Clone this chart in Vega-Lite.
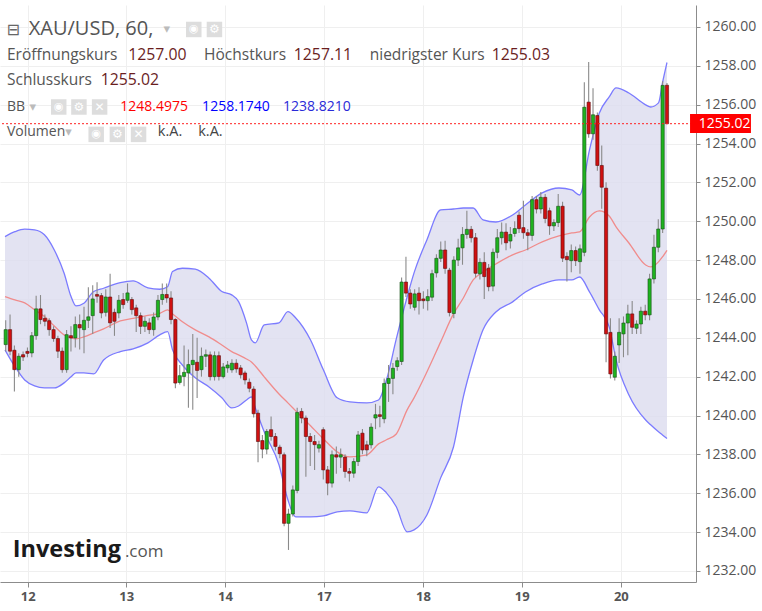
{
  "$schema": "https://vega.github.io/schema/vega-lite/v6.json",
  "width": 696,
  "height": 577,
  "autosize": {"type": "none"},
  "padding": {"left": 0, "top": 5, "right": 66, "bottom": 29},
  "background": "white",
  "config": {"view": {"stroke": null}},
  "data": {"values": [{}]},
  "datasets": {
    "candles": [
      {"i":0,"o":1243.65,"h":1244.9,"l":1243.3,"c":1244.42},
      {"i":1,"o":1244.42,"h":1245.2,"l":1243.1,"c":1243.31},
      {"i":2,"o":1243.36,"h":1243.6,"l":1241.24,"c":1242.36},
      {"i":3,"o":1242.36,"h":1243.2,"l":1242.0,"c":1243.05},
      {"i":4,"o":1243.13,"h":1243.3,"l":1242.8,"c":1243.01},
      {"i":5,"o":1243.3,"h":1243.5,"l":1243.0,"c":1243.2},
      {"i":6,"o":1243.22,"h":1244.3,"l":1243.0,"c":1244.11},
      {"i":7,"o":1244.11,"h":1246.17,"l":1243.9,"c":1245.49},
      {"i":8,"o":1245.49,"h":1246.2,"l":1244.7,"c":1244.94},
      {"i":9,"o":1245.0,"h":1245.2,"l":1244.6,"c":1244.85},
      {"i":10,"o":1244.88,"h":1245.0,"l":1244.1,"c":1244.42},
      {"i":11,"o":1244.42,"h":1244.6,"l":1243.8,"c":1243.96},
      {"i":12,"o":1243.96,"h":1244.1,"l":1242.96,"c":1243.31},
      {"i":13,"o":1243.31,"h":1243.5,"l":1242.2,"c":1242.36},
      {"i":14,"o":1242.36,"h":1244.4,"l":1242.2,"c":1244.16},
      {"i":15,"o":1244.11,"h":1244.6,"l":1243.3,"c":1243.99},
      {"i":16,"o":1243.99,"h":1245.1,"l":1243.5,"c":1244.68},
      {"i":17,"o":1244.68,"h":1245.2,"l":1243.4,"c":1244.51},
      {"i":18,"o":1244.42,"h":1245.6,"l":1243.2,"c":1244.9},
      {"i":19,"o":1244.9,"h":1246.6,"l":1244.5,"c":1245.08},
      {"i":20,"o":1245.14,"h":1246.7,"l":1244.2,"c":1246.0},
      {"i":21,"o":1246.23,"h":1246.86,"l":1245.8,"c":1246.14},
      {"i":22,"o":1246.17,"h":1246.3,"l":1245.0,"c":1245.28},
      {"i":23,"o":1245.31,"h":1246.5,"l":1245.1,"c":1246.1},
      {"i":24,"o":1246.1,"h":1247.3,"l":1244.5,"c":1244.77},
      {"i":25,"o":1245.31,"h":1245.5,"l":1244.1,"c":1244.85},
      {"i":26,"o":1245.28,"h":1246.2,"l":1245.0,"c":1245.93},
      {"i":27,"o":1245.97,"h":1246.3,"l":1245.5,"c":1245.71},
      {"i":28,"o":1245.93,"h":1246.8,"l":1245.8,"c":1246.31},
      {"i":29,"o":1245.97,"h":1246.1,"l":1245.2,"c":1245.45},
      {"i":30,"o":1245.54,"h":1245.7,"l":1244.3,"c":1245.14},
      {"i":31,"o":1245.14,"h":1245.3,"l":1244.2,"c":1244.59},
      {"i":32,"o":1244.59,"h":1245.1,"l":1244.3,"c":1244.85},
      {"i":33,"o":1244.77,"h":1245.0,"l":1244.2,"c":1244.42},
      {"i":34,"o":1244.42,"h":1245.3,"l":1244.1,"c":1245.07},
      {"i":35,"o":1245.07,"h":1246.2,"l":1244.9,"c":1245.93},
      {"i":36,"o":1245.97,"h":1246.8,"l":1245.7,"c":1246.23},
      {"i":37,"o":1246.23,"h":1246.8,"l":1245.8,"c":1246.05},
      {"i":38,"o":1246.05,"h":1246.4,"l":1244.7,"c":1244.94},
      {"i":39,"o":1244.94,"h":1245.0,"l":1241.4,"c":1241.67},
      {"i":40,"o":1241.7,"h":1242.6,"l":1241.6,"c":1242.05},
      {"i":41,"o":1242.01,"h":1243.6,"l":1241.5,"c":1242.22},
      {"i":42,"o":1242.19,"h":1243.4,"l":1240.4,"c":1242.62},
      {"i":43,"o":1242.62,"h":1244.2,"l":1240.3,"c":1242.84},
      {"i":44,"o":1242.74,"h":1244.0,"l":1240.9,"c":1242.32},
      {"i":45,"o":1242.36,"h":1243.5,"l":1242.0,"c":1243.05},
      {"i":46,"o":1243.05,"h":1243.4,"l":1242.5,"c":1243.13},
      {"i":47,"o":1243.12,"h":1243.3,"l":1241.8,"c":1242.0},
      {"i":48,"o":1242.0,"h":1243.3,"l":1241.8,"c":1243.08},
      {"i":49,"o":1243.08,"h":1243.3,"l":1241.8,"c":1242.01},
      {"i":50,"o":1242.0,"h":1242.7,"l":1241.9,"c":1242.5},
      {"i":51,"o":1242.45,"h":1242.8,"l":1242.2,"c":1242.6},
      {"i":52,"o":1242.35,"h":1242.9,"l":1242.2,"c":1242.69},
      {"i":53,"o":1242.69,"h":1242.9,"l":1242.2,"c":1242.4},
      {"i":54,"o":1242.45,"h":1242.6,"l":1241.9,"c":1242.1},
      {"i":55,"o":1242.19,"h":1242.3,"l":1241.6,"c":1241.83},
      {"i":56,"o":1241.71,"h":1241.9,"l":1241.2,"c":1241.4},
      {"i":57,"o":1241.36,"h":1241.5,"l":1239.9,"c":1240.09},
      {"i":58,"o":1240.12,"h":1240.3,"l":1237.6,"c":1238.66},
      {"i":59,"o":1238.71,"h":1239.0,"l":1237.8,"c":1238.27},
      {"i":60,"o":1238.27,"h":1239.3,"l":1238.0,"c":1239.18},
      {"i":61,"o":1239.27,"h":1239.95,"l":1238.7,"c":1238.92},
      {"i":62,"o":1238.92,"h":1239.1,"l":1238.2,"c":1238.41},
      {"i":63,"o":1238.37,"h":1238.5,"l":1237.8,"c":1238.03},
      {"i":64,"o":1237.98,"h":1238.1,"l":1234.3,"c":1234.45},
      {"i":65,"o":1234.45,"h":1235.2,"l":1233.08,"c":1234.93},
      {"i":66,"o":1234.93,"h":1236.4,"l":1234.8,"c":1236.17},
      {"i":67,"o":1236.14,"h":1240.4,"l":1236.0,"c":1240.16},
      {"i":68,"o":1240.21,"h":1240.38,"l":1239.6,"c":1239.87},
      {"i":69,"o":1239.87,"h":1240.0,"l":1236.85,"c":1238.92},
      {"i":70,"o":1238.92,"h":1239.1,"l":1237.4,"c":1238.66},
      {"i":71,"o":1238.66,"h":1239.0,"l":1237.2,"c":1238.5},
      {"i":72,"o":1238.32,"h":1238.7,"l":1238.1,"c":1238.5},
      {"i":73,"o":1239.27,"h":1239.4,"l":1236.7,"c":1237.2},
      {"i":74,"o":1237.2,"h":1237.4,"l":1235.9,"c":1236.52},
      {"i":75,"o":1236.52,"h":1238.2,"l":1236.3,"c":1237.98},
      {"i":76,"o":1237.98,"h":1238.4,"l":1237.0,"c":1237.86},
      {"i":77,"o":1237.86,"h":1238.3,"l":1237.3,"c":1237.98},
      {"i":78,"o":1237.86,"h":1238.0,"l":1236.8,"c":1237.12},
      {"i":79,"o":1237.12,"h":1237.3,"l":1236.6,"c":1237.03},
      {"i":80,"o":1237.03,"h":1237.8,"l":1236.8,"c":1237.63},
      {"i":81,"o":1237.63,"h":1239.2,"l":1237.4,"c":1239.0},
      {"i":82,"o":1239.09,"h":1239.3,"l":1238.0,"c":1238.23},
      {"i":83,"o":1238.49,"h":1238.7,"l":1237.9,"c":1238.23},
      {"i":84,"o":1238.49,"h":1239.6,"l":1238.3,"c":1239.4},
      {"i":85,"o":1239.87,"h":1240.6,"l":1239.3,"c":1240.04},
      {"i":86,"o":1240.04,"h":1240.5,"l":1239.4,"c":1239.95},
      {"i":87,"o":1239.83,"h":1241.9,"l":1239.6,"c":1241.65},
      {"i":88,"o":1241.65,"h":1242.6,"l":1240.7,"c":1241.91},
      {"i":89,"o":1241.91,"h":1242.7,"l":1241.1,"c":1242.43},
      {"i":90,"o":1242.52,"h":1243.0,"l":1242.3,"c":1242.82},
      {"i":91,"o":1242.78,"h":1247.1,"l":1242.6,"c":1246.87},
      {"i":92,"o":1246.87,"h":1248.17,"l":1246.1,"c":1246.3},
      {"i":93,"o":1246.3,"h":1246.5,"l":1245.5,"c":1245.74},
      {"i":94,"o":1245.57,"h":1246.5,"l":1245.4,"c":1246.26},
      {"i":95,"o":1246.3,"h":1246.6,"l":1245.2,"c":1245.91},
      {"i":96,"o":1246.0,"h":1246.4,"l":1245.5,"c":1245.91},
      {"i":97,"o":1245.91,"h":1246.5,"l":1245.4,"c":1246.12},
      {"i":98,"o":1246.09,"h":1247.5,"l":1245.9,"c":1247.3},
      {"i":99,"o":1247.34,"h":1248.3,"l":1247.1,"c":1248.09},
      {"i":100,"o":1248.09,"h":1248.96,"l":1247.9,"c":1248.52},
      {"i":101,"o":1248.52,"h":1249.0,"l":1247.3,"c":1247.57},
      {"i":102,"o":1247.48,"h":1247.6,"l":1245.1,"c":1245.3},
      {"i":103,"o":1245.25,"h":1248.2,"l":1245.0,"c":1248.0},
      {"i":104,"o":1248.0,"h":1249.1,"l":1247.7,"c":1248.63},
      {"i":105,"o":1248.63,"h":1249.7,"l":1247.76,"c":1249.32},
      {"i":106,"o":1249.32,"h":1250.54,"l":1249.1,"c":1249.58},
      {"i":107,"o":1249.58,"h":1249.76,"l":1248.9,"c":1249.15},
      {"i":108,"o":1249.15,"h":1249.4,"l":1247.1,"c":1247.32},
      {"i":109,"o":1247.29,"h":1248.1,"l":1247.0,"c":1247.88},
      {"i":110,"o":1247.88,"h":1248.4,"l":1246.0,"c":1247.15},
      {"i":111,"o":1247.58,"h":1247.8,"l":1246.4,"c":1246.63},
      {"i":112,"o":1246.66,"h":1248.6,"l":1246.4,"c":1248.4},
      {"i":113,"o":1248.4,"h":1249.6,"l":1248.1,"c":1249.15},
      {"i":114,"o":1249.15,"h":1249.93,"l":1248.8,"c":1249.44},
      {"i":115,"o":1249.44,"h":1249.9,"l":1248.5,"c":1248.89},
      {"i":116,"o":1248.98,"h":1249.7,"l":1248.6,"c":1249.32},
      {"i":117,"o":1249.37,"h":1250.0,"l":1249.2,"c":1249.62},
      {"i":118,"o":1250.31,"h":1250.5,"l":1249.4,"c":1249.62},
      {"i":119,"o":1249.67,"h":1251.06,"l":1249.1,"c":1249.41},
      {"i":120,"o":1249.41,"h":1249.6,"l":1248.5,"c":1249.27},
      {"i":121,"o":1249.27,"h":1251.3,"l":1249.0,"c":1251.11},
      {"i":122,"o":1251.11,"h":1251.3,"l":1250.4,"c":1250.63},
      {"i":123,"o":1250.63,"h":1251.5,"l":1250.4,"c":1251.23},
      {"i":124,"o":1251.23,"h":1251.4,"l":1249.9,"c":1250.14},
      {"i":125,"o":1250.54,"h":1250.7,"l":1249.3,"c":1249.76},
      {"i":126,"o":1249.76,"h":1250.1,"l":1249.5,"c":1249.93},
      {"i":127,"o":1249.93,"h":1251.4,"l":1249.7,"c":1250.77},
      {"i":128,"o":1250.77,"h":1251.0,"l":1247.9,"c":1248.1},
      {"i":129,"o":1248.19,"h":1248.4,"l":1246.9,"c":1248.02},
      {"i":130,"o":1247.97,"h":1248.8,"l":1247.37,"c":1248.49},
      {"i":131,"o":1248.49,"h":1248.7,"l":1247.7,"c":1247.97},
      {"i":132,"o":1247.92,"h":1248.8,"l":1247.3,"c":1248.58},
      {"i":133,"o":1248.4,"h":1257.16,"l":1248.2,"c":1255.87},
      {"i":134,"o":1256.13,"h":1258.19,"l":1254.3,"c":1254.5},
      {"i":135,"o":1254.5,"h":1256.85,"l":1254.2,"c":1255.48},
      {"i":136,"o":1255.44,"h":1255.6,"l":1252.6,"c":1252.87},
      {"i":137,"o":1252.87,"h":1253.9,"l":1250.64,"c":1251.75},
      {"i":138,"o":1251.7,"h":1252.0,"l":1242.74,"c":1244.2},
      {"i":139,"o":1244.28,"h":1245.0,"l":1241.9,"c":1242.14},
      {"i":140,"o":1241.97,"h":1243.3,"l":1241.8,"c":1243.05},
      {"i":141,"o":1243.63,"h":1245.0,"l":1242.7,"c":1244.28},
      {"i":142,"o":1244.2,"h":1245.1,"l":1243.0,"c":1244.76},
      {"i":143,"o":1244.76,"h":1245.7,"l":1243.1,"c":1245.23},
      {"i":144,"o":1245.23,"h":1245.9,"l":1244.2,"c":1244.54},
      {"i":145,"o":1244.49,"h":1244.9,"l":1244.2,"c":1244.71},
      {"i":146,"o":1244.71,"h":1245.6,"l":1244.2,"c":1245.37},
      {"i":147,"o":1245.37,"h":1245.7,"l":1244.9,"c":1245.18},
      {"i":148,"o":1245.18,"h":1247.3,"l":1244.9,"c":1247.03},
      {"i":149,"o":1247.03,"h":1249.3,"l":1246.8,"c":1248.66},
      {"i":150,"o":1248.66,"h":1250.1,"l":1248.4,"c":1249.6},
      {"i":151,"o":1249.6,"h":1257.2,"l":1249.4,"c":1256.99},
      {"i":152,"o":1257.0,"h":1257.11,"l":1255.02,"c":1255.02}
    ],
    "bb": [
      {"i":-0.16,"u":1249.21,"m":1246.12,"l":1243.38},
      {"i":2.11,"u":1249.46,"m":1245.95,"l":1242.52},
      {"i":4.37,"u":1249.59,"m":1245.8,"l":1241.83},
      {"i":6.64,"u":1249.55,"m":1245.44,"l":1241.52},
      {"i":8.9,"u":1249.3,"m":1245.09,"l":1241.42},
      {"i":11.17,"u":1248.52,"m":1244.61,"l":1241.42},
      {"i":13.43,"u":1247.32,"m":1244.15,"l":1241.68},
      {"i":15.02,"u":1246.12,"m":1243.99,"l":1241.99},
      {"i":16.15,"u":1245.64,"m":1243.94,"l":1242.19},
      {"i":17.97,"u":1245.78,"m":1244.05,"l":1242.19},
      {"i":20.23,"u":1246.38,"m":1244.25,"l":1242.14},
      {"i":22.5,"u":1246.55,"m":1244.46,"l":1242.86},
      {"i":26.35,"u":1246.84,"m":1244.87,"l":1243.29},
      {"i":29.29,"u":1246.93,"m":1245.0,"l":1243.43},
      {"i":32.69,"u":1246.57,"m":1245.15,"l":1243.74},
      {"i":35.41,"u":1246.5,"m":1245.26,"l":1244.15},
      {"i":37.22,"u":1246.63,"m":1245.44,"l":1244.32},
      {"i":38.35,"u":1247.41,"m":1245.23,"l":1243.38},
      {"i":40.62,"u":1247.58,"m":1244.83,"l":1242.6},
      {"i":43.57,"u":1247.53,"m":1244.41,"l":1241.94},
      {"i":46.74,"u":1247.07,"m":1244.05,"l":1241.47},
      {"i":49.68,"u":1246.38,"m":1243.63,"l":1240.91},
      {"i":51.95,"u":1246.21,"m":1243.29,"l":1240.39},
      {"i":53.53,"u":1245.86,"m":1243.12,"l":1240.49},
      {"i":55.35,"u":1244.77,"m":1242.91,"l":1240.8},
      {"i":56.48,"u":1243.89,"m":1242.76,"l":1240.96},
      {"i":57.38,"u":1243.74,"m":1242.55,"l":1240.39},
      {"i":59.42,"u":1244.66,"m":1241.99,"l":1239.16},
      {"i":62.82,"u":1244.77,"m":1241.11,"l":1237.46},
      {"i":64.86,"u":1245.35,"m":1240.65,"l":1235.66},
      {"i":66.67,"u":1245.02,"m":1240.24,"l":1234.78},
      {"i":70.07,"u":1243.89,"m":1239.47,"l":1234.78},
      {"i":73.02,"u":1242.35,"m":1238.8,"l":1234.83},
      {"i":76.19,"u":1240.91,"m":1238.13,"l":1235.04},
      {"i":79.13,"u":1240.7,"m":1237.87,"l":1235.09},
      {"i":82.98,"u":1240.65,"m":1237.97,"l":1234.99},
      {"i":85.7,"u":1240.8,"m":1238.54,"l":1236.33},
      {"i":87.52,"u":1241.83,"m":1238.75,"l":1236.02},
      {"i":89.78,"u":1243.94,"m":1239.05,"l":1235.3},
      {"i":92.27,"u":1246.1,"m":1240.29,"l":1234.01},
      {"i":93.86,"u":1247.34,"m":1240.91,"l":1234.11},
      {"i":96.81,"u":1249.04,"m":1242.24,"l":1234.88},
      {"i":99.98,"u":1250.58,"m":1243.79,"l":1236.79},
      {"i":102.92,"u":1250.63,"m":1245.23,"l":1238.38},
      {"i":105.19,"u":1250.68,"m":1246.05,"l":1240.96},
      {"i":107.45,"u":1250.68,"m":1246.98,"l":1242.86},
      {"i":109.72,"u":1250.07,"m":1247.39,"l":1244.41},
      {"i":112.67,"u":1249.96,"m":1247.8,"l":1245.33},
      {"i":116.52,"u":1250.32,"m":1248.27,"l":1245.85},
      {"i":119.47,"u":1250.84,"m":1248.52,"l":1246.36},
      {"i":123.32,"u":1251.46,"m":1248.94,"l":1246.77},
      {"i":127.17,"u":1251.71,"m":1249.24,"l":1246.98},
      {"i":130.12,"u":1251.61,"m":1249.4,"l":1246.98},
      {"i":131.92,"u":1251.35,"m":1249.45,"l":1247.13},
      {"i":134.19,"u":1253.67,"m":1250.22,"l":1246.36},
      {"i":136.45,"u":1255.57,"m":1250.53,"l":1245.44},
      {"i":138.72,"u":1256.4,"m":1250.27,"l":1244.56},
      {"i":140.3,"u":1256.86,"m":1249.71,"l":1242.86},
      {"i":143.25,"u":1256.6,"m":1248.88,"l":1241.06},
      {"i":147.1,"u":1255.99,"m":1247.75,"l":1239.77},
      {"i":148.24,"u":1255.88,"m":1247.65,"l":1239.52},
      {"i":150.05,"u":1256.09,"m":1247.91,"l":1239.16},
      {"i":150.96,"u":1257.12,"m":1248.16,"l":1239.0},
      {"i":152,"u":1258.17,"m":1248.5,"l":1238.82}
    ]
  },
  "encoding": {
    "x": {
      "type": "quantitative",
      "scale": {"domain": [-0.16, 157.52], "nice": false, "zero": false},
      "axis": {
        "orient": "bottom", "title": null,
        "values": [5.05, 27.7, 50.4, 73.1, 95.9, 118.6, 141.4],
        "labelExpr": "datum.value < 10 ? '12' : datum.value < 30 ? '13' : datum.value < 60 ? '14' : datum.value < 80 ? '17' : datum.value < 100 ? '18' : datum.value < 130 ? '19' : '20'",
        "grid": true, "gridColor": "#efefef",
        "domainColor": "#8c8c8c", "tickColor": "#8c8c8c", "tickSize": 5,
        "labelFont": "Open Sans", "labelFontSize": 13, "labelFontWeight": "bold",
        "labelColor": "#555555", "labelPadding": 3
      }
    },
    "y": {
      "type": "quantitative",
      "scale": {"domain": [1231.43, 1261.13], "nice": false, "zero": false},
      "axis": {
        "orient": "right", "title": null,
        "values": [1232, 1234, 1236, 1238, 1240, 1242, 1244, 1246, 1248, 1250, 1252, 1254, 1256, 1258, 1260],
        "format": ".2f",
        "grid": true, "gridColor": "#efefef",
        "domainColor": "#8c8c8c", "tickColor": "#8c8c8c", "tickSize": 4,
        "labelFont": "Open Sans", "labelFontSize": 14, "labelColor": "#555555", "labelPadding": 4
      }
    }
  },
  "layer": [
    {
      "data": {"name": "bb"},
      "mark": {"type": "area", "color": "#dcdcef", "opacity": 0.8, "interpolate": "monotone"},
      "encoding": {"x": {"field": "i"}, "y": {"field": "u"}, "y2": {"field": "l"}}
    },
    {
      "data": {"name": "bb"},
      "mark": {"type": "line", "color": "#7b7bff", "strokeWidth": 1.3, "interpolate": "monotone"},
      "encoding": {"x": {"field": "i"}, "y": {"field": "u"}}
    },
    {
      "data": {"name": "bb"},
      "mark": {"type": "line", "color": "#7b7bff", "strokeWidth": 1.3, "interpolate": "monotone"},
      "encoding": {"x": {"field": "i"}, "y": {"field": "l"}}
    },
    {
      "data": {"name": "bb"},
      "mark": {"type": "line", "color": "#f08c8c", "strokeWidth": 1.3, "interpolate": "monotone"},
      "encoding": {"x": {"field": "i"}, "y": {"field": "m"}}
    },
    {
      "data": {"name": "candles"},
      "mark": {"type": "rule", "color": "#8a8a8a", "strokeWidth": 1.1},
      "encoding": {"x": {"field": "i"}, "y": {"field": "l"}, "y2": {"field": "h"}}
    },
    {
      "data": {"name": "candles"},
      "mark": {"type": "bar", "size": 3.2, "strokeWidth": 0.6},
      "encoding": {
        "x": {"field": "i"},
        "y": {"field": "o"},
        "y2": {"field": "c"},
        "color": {"condition": {"test": "datum.c >= datum.o", "value": "#1fb31f"}, "value": "#d01010"},
        "stroke": {"condition": {"test": "datum.c >= datum.o", "value": "#154d15"}, "value": "#5a0c0c"}
      }
    },
    {
      "mark": {"type": "rule", "color": "#ff2020", "strokeDash": [2, 2], "strokeWidth": 1},
      "encoding": {"y": {"datum": 1255.02}}
    },
    {
      "mark": {"type": "rect", "color": "#ff0000"},
      "encoding": {"x": {"datum": 157.3}, "x2": {"datum": 171.3}, "y": {"datum": 1255.52}, "y2": {"datum": 1254.54}}
    },
    {
      "mark": {"type": "text", "align": "left", "baseline": "middle", "font": "Open Sans", "fontSize": 14, "color": "white"},
      "encoding": {"x": {"datum": 159.3}, "y": {"datum": 1255.02}, "text": {"value": "1255.02"}}
    },
    {
      "mark": {"type": "text", "align": "left", "baseline": "middle", "font": "DejaVu Sans", "fontSize": 16, "color": "#666666"},
      "encoding": {"x": {"datum": 0.2}, "y": {"datum": 1259.85}, "text": {"value": "⊟"}}
    },
    {
      "mark": {"type": "text", "align": "left", "baseline": "middle", "font": "Open Sans", "fontSize": 20, "color": "#555555"},
      "encoding": {"x": {"datum": 5.3}, "y": {"datum": 1259.9}, "text": {"value": "XAU/USD, 60,"}}
    },
    {
      "mark": {"type": "text", "align": "left", "baseline": "middle", "font": "DejaVu Sans", "fontSize": 13, "color": "#bbbbbb"},
      "encoding": {"x": {"datum": 36.3}, "y": {"datum": 1259.9}, "text": {"value": "▾"}}
    },
    {
      "mark": {"type": "point", "shape": "square", "size": 240, "filled": true, "color": "#dddddd", "opacity": 1},
      "encoding": {"x": {"datum": 43.23}, "y": {"datum": 1259.87}}
    },
    {
      "mark": {"type": "point", "shape": "square", "size": 240, "filled": true, "color": "#dddddd", "opacity": 1},
      "encoding": {"x": {"datum": 47.98}, "y": {"datum": 1259.87}}
    },
    {
      "mark": {"type": "text", "align": "center", "baseline": "middle", "font": "DejaVu Sans", "fontSize": 11, "color": "white"},
      "encoding": {"x": {"datum": 43.23}, "y": {"datum": 1259.87}, "text": {"value": "◉"}}
    },
    {
      "mark": {"type": "text", "align": "center", "baseline": "middle", "font": "DejaVu Sans", "fontSize": 12, "color": "white"},
      "encoding": {"x": {"datum": 47.98}, "y": {"datum": 1259.87}, "text": {"value": "⚙"}}
    },
    {
      "mark": {"type": "text", "align": "left", "baseline": "middle", "font": "Open Sans", "fontSize": 15.5, "color": "#555555"},
      "encoding": {"x": {"datum": 0.29}, "y": {"datum": 1258.56}, "text": {"value": "Eröffnungskurs"}}
    },
    {
      "mark": {"type": "text", "align": "left", "baseline": "middle", "font": "Open Sans", "fontSize": 15.8, "color": "#6a1e1e"},
      "encoding": {"x": {"datum": 28.16}, "y": {"datum": 1258.56}, "text": {"value": "1257.00"}}
    },
    {
      "mark": {"type": "text", "align": "left", "baseline": "middle", "font": "Open Sans", "fontSize": 15.5, "color": "#555555"},
      "encoding": {"x": {"datum": 45.6}, "y": {"datum": 1258.56}, "text": {"value": "Höchstkurs"}}
    },
    {
      "mark": {"type": "text", "align": "left", "baseline": "middle", "font": "Open Sans", "fontSize": 15.8, "color": "#6a1e1e"},
      "encoding": {"x": {"datum": 66.22}, "y": {"datum": 1258.56}, "text": {"value": "1257.11"}}
    },
    {
      "mark": {"type": "text", "align": "left", "baseline": "middle", "font": "Open Sans", "fontSize": 15.5, "color": "#555555"},
      "encoding": {"x": {"datum": 83.67}, "y": {"datum": 1258.56}, "text": {"value": "niedrigster Kurs"}}
    },
    {
      "mark": {"type": "text", "align": "left", "baseline": "middle", "font": "Open Sans", "fontSize": 15.8, "color": "#6a1e1e"},
      "encoding": {"x": {"datum": 111.7}, "y": {"datum": 1258.56}, "text": {"value": "1255.03"}}
    },
    {
      "mark": {"type": "text", "align": "left", "baseline": "middle", "font": "Open Sans", "fontSize": 15.5, "color": "#555555"},
      "encoding": {"x": {"datum": 0.29}, "y": {"datum": 1257.27}, "text": {"value": "Schlusskurs"}}
    },
    {
      "mark": {"type": "text", "align": "left", "baseline": "middle", "font": "Open Sans", "fontSize": 15.8, "color": "#6a1e1e"},
      "encoding": {"x": {"datum": 21.82}, "y": {"datum": 1257.27}, "text": {"value": "1255.02"}}
    },
    {
      "mark": {"type": "text", "align": "left", "baseline": "middle", "font": "Open Sans", "fontSize": 14, "color": "#555555"},
      "encoding": {"x": {"datum": 0.29}, "y": {"datum": 1255.9}, "text": {"value": "BB"}}
    },
    {
      "mark": {"type": "text", "align": "left", "baseline": "middle", "font": "DejaVu Sans", "fontSize": 13, "color": "#bbbbbb"},
      "encoding": {"x": {"datum": 5.5}, "y": {"datum": 1255.9}, "text": {"value": "▾"}}
    },
    {
      "mark": {"type": "point", "shape": "square", "size": 240, "filled": true, "color": "#dddddd", "opacity": 1},
      "encoding": {"x": {"datum": 12.19}, "y": {"datum": 1255.88}}
    },
    {
      "mark": {"type": "point", "shape": "square", "size": 240, "filled": true, "color": "#dddddd", "opacity": 1},
      "encoding": {"x": {"datum": 16.83}, "y": {"datum": 1255.88}}
    },
    {
      "mark": {"type": "point", "shape": "square", "size": 240, "filled": true, "color": "#dddddd", "opacity": 1},
      "encoding": {"x": {"datum": 21.59}, "y": {"datum": 1255.88}}
    },
    {
      "mark": {"type": "text", "align": "center", "baseline": "middle", "font": "DejaVu Sans", "fontSize": 11, "color": "white"},
      "encoding": {"x": {"datum": 12.19}, "y": {"datum": 1255.88}, "text": {"value": "◉"}}
    },
    {
      "mark": {"type": "text", "align": "center", "baseline": "middle", "font": "DejaVu Sans", "fontSize": 12, "color": "white"},
      "encoding": {"x": {"datum": 16.83}, "y": {"datum": 1255.88}, "text": {"value": "⚙"}}
    },
    {
      "mark": {"type": "text", "align": "center", "baseline": "middle", "font": "DejaVu Sans", "fontSize": 12, "color": "white"},
      "encoding": {"x": {"datum": 21.59}, "y": {"datum": 1255.88}, "text": {"value": "✕"}}
    },
    {
      "mark": {"type": "text", "align": "left", "baseline": "middle", "font": "Open Sans", "fontSize": 14, "color": "#ff0000"},
      "encoding": {"x": {"datum": 26.35}, "y": {"datum": 1255.9}, "text": {"value": "1248.4975"}}
    },
    {
      "mark": {"type": "text", "align": "left", "baseline": "middle", "font": "Open Sans", "fontSize": 14, "color": "#0000ff"},
      "encoding": {"x": {"datum": 45.15}, "y": {"datum": 1255.9}, "text": {"value": "1258.1740"}}
    },
    {
      "mark": {"type": "text", "align": "left", "baseline": "middle", "font": "Open Sans", "fontSize": 14, "color": "#2a2ad8"},
      "encoding": {"x": {"datum": 63.73}, "y": {"datum": 1255.9}, "text": {"value": "1238.8210"}}
    },
    {
      "mark": {"type": "text", "align": "left", "baseline": "middle", "font": "Open Sans", "fontSize": 14, "color": "#555555"},
      "encoding": {"x": {"datum": 0.29}, "y": {"datum": 1254.6}, "text": {"value": "Volumen"}}
    },
    {
      "mark": {"type": "text", "align": "left", "baseline": "middle", "font": "DejaVu Sans", "fontSize": 13, "color": "#bbbbbb"},
      "encoding": {"x": {"datum": 13.66}, "y": {"datum": 1254.6}, "text": {"value": "▾"}}
    },
    {
      "mark": {"type": "point", "shape": "square", "size": 240, "filled": true, "color": "#dddddd", "opacity": 1},
      "encoding": {"x": {"datum": 20.8}, "y": {"datum": 1254.47}}
    },
    {
      "mark": {"type": "point", "shape": "square", "size": 240, "filled": true, "color": "#dddddd", "opacity": 1},
      "encoding": {"x": {"datum": 25.67}, "y": {"datum": 1254.47}}
    },
    {
      "mark": {"type": "point", "shape": "square", "size": 240, "filled": true, "color": "#dddddd", "opacity": 1},
      "encoding": {"x": {"datum": 30.54}, "y": {"datum": 1254.47}}
    },
    {
      "mark": {"type": "text", "align": "center", "baseline": "middle", "font": "DejaVu Sans", "fontSize": 11, "color": "white"},
      "encoding": {"x": {"datum": 20.8}, "y": {"datum": 1254.47}, "text": {"value": "◉"}}
    },
    {
      "mark": {"type": "text", "align": "center", "baseline": "middle", "font": "DejaVu Sans", "fontSize": 12, "color": "white"},
      "encoding": {"x": {"datum": 25.67}, "y": {"datum": 1254.47}, "text": {"value": "⚙"}}
    },
    {
      "mark": {"type": "text", "align": "center", "baseline": "middle", "font": "DejaVu Sans", "fontSize": 12, "color": "white"},
      "encoding": {"x": {"datum": 30.54}, "y": {"datum": 1254.47}, "text": {"value": "✕"}}
    },
    {
      "mark": {"type": "text", "align": "left", "baseline": "middle", "font": "Open Sans", "fontSize": 14.5, "color": "#444444"},
      "encoding": {"x": {"datum": 34.96}, "y": {"datum": 1254.6}, "text": {"value": "k.A."}}
    },
    {
      "mark": {"type": "text", "align": "left", "baseline": "middle", "font": "Open Sans", "fontSize": 14.5, "color": "#444444"},
      "encoding": {"x": {"datum": 44.25}, "y": {"datum": 1254.6}, "text": {"value": "k.A."}}
    },
    {
      "mark": {"type": "text", "align": "left", "baseline": "alphabetic", "font": "Open Sans", "fontSize": 23.5, "fontWeight": "bold", "color": "#1a1a1a"},
      "encoding": {"x": {"datum": 1.6}, "y": {"datum": 1232.72}, "text": {"value": "Investing"}}
    },
    {
      "mark": {"type": "text", "align": "left", "baseline": "alphabetic", "font": "Open Sans", "fontSize": 17, "color": "#555555"},
      "encoding": {"x": {"datum": 27.4}, "y": {"datum": 1232.72}, "text": {"value": ".com"}}
    }
  ]
}
